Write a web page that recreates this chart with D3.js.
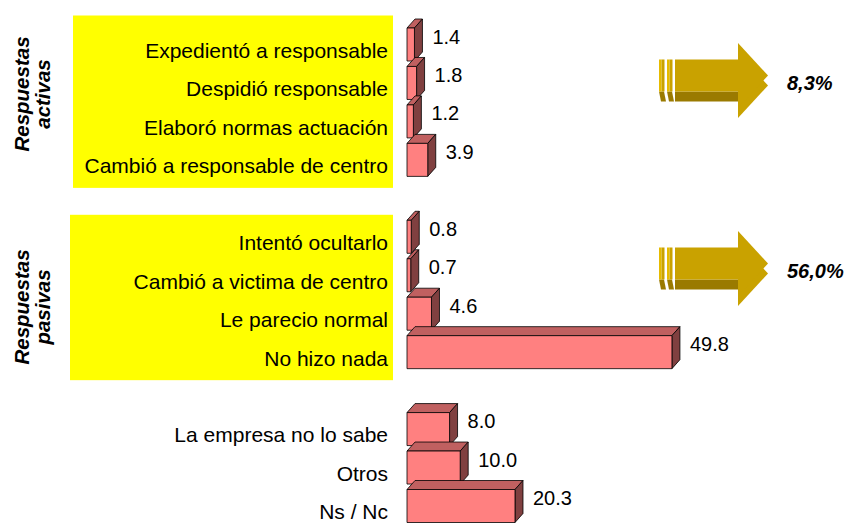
<!DOCTYPE html>
<html>
<head>
<meta charset="utf-8">
<script src="https://cdn.jsdelivr.net/npm/d3@7"></script>
<style>
  body { margin: 0; background: #fff; }
  svg { display: block; font-family: "Liberation Sans", Arial, sans-serif; }
</style>
</head>
<body>
<script>
// data
const activeCats = ["Expedientó a responsable", "Despidió responsable", "Elaboró normas actuación", "Cambió a responsable de centro"];
const activeVals = [1.4, 1.8, 1.2, 3.9];
const passiveCats = ["Intentó ocultarlo", "Cambió a victima de centro", "Le parecio normal", "No hizo nada"];
const passiveVals = [0.8, 0.7, 4.6, 49.8];
const otherCats = ["La empresa no lo sabe", "Otros", "Ns / Nc"];
const otherVals = [8.0, 10.0, 20.3];
const groupTitles = [["Respuestas", "activas"], ["Respuestas", "pasivas"]];
const totals = ["8,3%", "56,0%"];

const width = 851, height = 523;
const depthX = 8, depthY = 9, barH = 33;

// slots: categories with a blank slot between groups
const rows = [];
activeCats.forEach((c, i) => rows.push({ key: c, cat: c, v: activeVals[i] }));
rows.push({ key: "_gap1" });
passiveCats.forEach((c, i) => rows.push({ key: c, cat: c, v: passiveVals[i] }));
rows.push({ key: "_gap2" });
otherCats.forEach((c, i) => rows.push({ key: c, cat: c, v: otherVals[i] }));
const bars = rows.filter(d => d.cat);

const svg = d3.select("body").append("svg")
    .attr("width", width)
    .attr("height", height);

const y = d3.scalePoint()
    .domain(rows.map(d => d.key))
    .range([50.5, 512]);

const x = d3.scaleLinear()
    .domain([0, 50])
    .range([407, 673]);

// yellow label panels
const panels = [
  { x0: 73, top: y(activeCats[0]) - 35, bottom: y(activeCats[3]) + 22 },
  { x0: 70, top: y(passiveCats[0]) - 28, bottom: y(passiveCats[3]) + 22 }
];
svg.selectAll("rect.panel")
  .data(panels)
  .join("rect")
    .attr("class", "panel")
    .attr("x", d => d.x0)
    .attr("y", d => d.top)
    .attr("width", d => 393 - d.x0)
    .attr("height", d => d.bottom - d.top)
    .attr("fill", "#ffff00");

// category labels
svg.append("g")
  .selectAll("text")
  .data(bars)
  .join("text")
    .attr("x", 388)
    .attr("y", d => y(d.key))
    .attr("dy", "0.35em")
    .attr("text-anchor", "end")
    .attr("font-size", 21)
    .attr("fill", "#000")
    .text(d => d.cat);

// 3D bars
const g = svg.append("g")
    .attr("stroke", "#000")
    .attr("stroke-width", 0.8)
    .attr("stroke-linejoin", "round");

bars.forEach(d => {
  const x0 = x(0), x1 = x(d.v);
  const y0 = y(d.key) - 22.5, y1 = y0 + barH;
  g.append("polygon") // top face
    .attr("points", [[x0, y0], [x0 + depthX, y0 - depthY], [x1 + depthX, y0 - depthY], [x1, y0]].join(" "))
    .attr("fill", "#c06060");
  g.append("polygon") // side face
    .attr("points", [[x1, y0], [x1 + depthX, y0 - depthY], [x1 + depthX, y1 - depthY], [x1, y1]].join(" "))
    .attr("fill", "#804040");
  g.append("rect") // front face
    .attr("x", x0)
    .attr("y", y0)
    .attr("width", x1 - x0)
    .attr("height", barH)
    .attr("fill", "#ff8080");
});

// value labels
svg.append("g")
  .selectAll("text")
  .data(bars)
  .join("text")
    .attr("x", d => x(d.v) + depthX + 10)
    .attr("y", d => y(d.key) - 14)
    .attr("dy", "0.35em")
    .attr("font-size", 20)
    .attr("fill", "#000")
    .text(d => d3.format(".1f")(d.v));

// group titles, rotated
const titleY = [94, 307];
groupTitles.forEach((lines, i) => {
  const t = svg.append("text")
      .attr("transform", `translate(33,${titleY[i]}) rotate(-90)`)
      .attr("text-anchor", "middle")
      .attr("font-size", 20.5)
      .attr("font-weight", "bold")
      .attr("font-style", "italic");
  lines.forEach((s, j) => t.append("tspan")
      .attr("x", 0)
      .attr("y", j === 0 ? -4 : 17)
      .text(s));
});

// gold arrows with totals
const arrowY = [75.5, 263.5];
arrowY.forEach((cy, i) => {
  const a = svg.append("g").attr("transform", `translate(0,${cy})`);
  const headPts = [[738, -32.5], [768, 0], [738, 32.5]];
  // extrusion (lower part)
  a.append("polygon")
    .attr("points", headPts.map(p => [p[0], p[1] + 10]).join(" "))
    .attr("fill", "#c9a200");
  a.append("rect").attr("x", 675).attr("y", 16).attr("width", 64).attr("height", 10).attr("fill", "#9a7a00");
  [659, 667].forEach(sx => {
    a.append("polygon")
      .attr("points", [[sx, 16], [sx + 5, 16], [sx + 7, 26], [sx + 2, 26]].join(" "))
      .attr("fill", "#9a7a00");
  });
  // front
  [659, 667].forEach(sx => {
    a.append("rect").attr("x", sx).attr("y", -16).attr("width", 2.5).attr("height", 32).attr("fill", "#e6bb00");
    a.append("rect").attr("x", sx + 2.5).attr("y", -16).attr("width", 3).attr("height", 32).attr("fill", "#c9a200");
  });
  a.append("rect").attr("x", 675).attr("y", -16).attr("width", 64).attr("height", 32).attr("fill", "#c9a200");
  a.append("polygon")
    .attr("points", headPts.join(" "))
    .attr("fill", "#c9a200");
  svg.append("text")
    .attr("x", 787)
    .attr("y", cy + 7)
    .attr("dy", "0.35em")
    .attr("font-size", 20)
    .attr("font-weight", "bold")
    .attr("font-style", "italic")
    .text(totals[i]);
});
</script>
</body>
</html>
